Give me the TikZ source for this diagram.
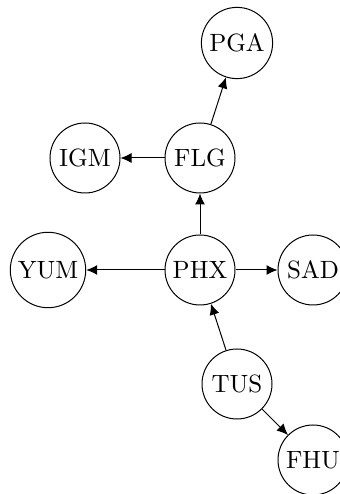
\documentclass[tikz,border=0pt]{standalone}
\usetikzlibrary{arrows.meta, positioning}

\begin{document}
\begin{tikzpicture}[auto, >={Latex[length=4.4pt, width=4pt]}, x=0.4pt, y=0.4pt]
				\tikzstyle{round} = [draw=black, circle, inner sep=2pt, minimum size=28pt]
				
				\useasboundingbox (0,0) rectangle (340,494);
				
				\node[round] 			at (237, 451) 	(pga) 	{PGA};
				\node[round] 			at (85, 336) 	(igm) 	{IGM};
				\node[round] 			at (200, 336) 	(flg) 	{FLG};
				\node[round] 			at (48, 224) 	(yum) 	{YUM};
				\node[round] 			at (200, 224) 	(phx) 	{PHX};
				\node[round] 			at (313, 224) 	(sad) 	{SAD};
				\node[round] 			at (237, 110) 	(tus) 	{TUS};
				\node[round] 			at (313, 34) 	(fhu) 	{FHU};
				
				\path[->]
				(flg)	edge	(pga)
				(flg)	edge	(igm)
				(phx)	edge	(flg)
				(phx)	edge	(yum)
				(phx)	edge	(sad)
				(tus)	edge	(phx)
				(tus)	edge	(fhu);
			\end{tikzpicture}
\end{document}
